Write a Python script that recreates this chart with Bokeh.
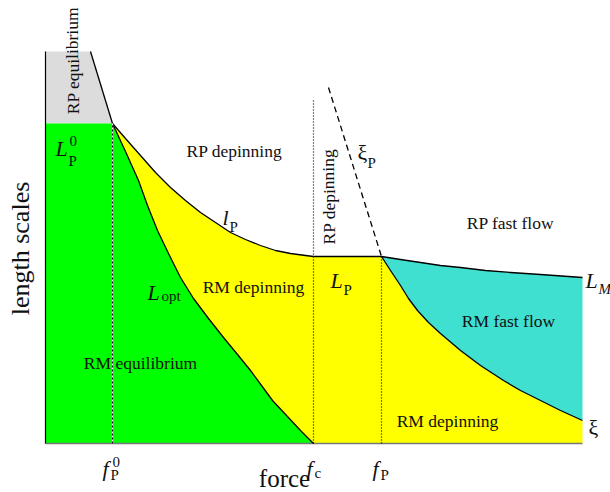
from bokeh.plotting import figure
from bokeh.models import Range1d, ColumnDataSource
from bokeh.core.properties import value
from bokeh.embed import file_html
from bokeh.resources import INLINE

# ---- data (force, length in schematic units; origin at the axes corner) ----
f_P0 = 67
f_c = 268
f_P = 336
f_max = 537
L_top = 392
L_P0 = 320
L_P = 187
gray_top_force = 45
fc_line_top = 343

lP_force = [67, 80, 95, 110, 125, 140, 155, 170, 185, 200, 215, 230, 245, 260, 268]
lP_len = [320, 305, 288, 271, 256, 243, 231, 221, 211, 204, 198, 193, 190, 188, 187]
Lopt_force = [67, 80, 93, 102, 112, 123, 135, 148, 163, 178, 192, 205, 216, 227,
              241, 255, 268]
Lopt_len = [320, 292, 263, 238, 213, 190, 166, 145, 125, 106, 89, 73, 58, 43, 28, 13, 0]
LM_force = [336, 355, 375, 395, 415, 440, 465, 495, 537]
LM_len = [187, 184, 181, 178, 176, 173, 171, 169, 166]
xi_force = [336, 345, 355, 363, 372, 383, 395, 415, 435, 458, 475, 495, 515, 537]
xi_len = [187, 173, 158, 145, 133, 121, 110, 93, 78, 63, 53, 43, 33, 23]
xiP_force = [283, 336]
xiP_len = [356, 187]

region_names = ["RP depinning", "RP fast flow", "RM depinning", "RM fast flow",
                "RM equilibrium", "RM depinning"]
region_x = [189, 465, 208, 463, 95, 402]
region_y = [293, 221, 157, 123, 81, 23]

FONT = value("Liberation Serif")
INK = "#111111"

p = figure(width=610, height=492, output_backend="svg", toolbar_location=None,
           x_range=Range1d(-45, 565), y_range=Range1d(-49, 443), min_border=0)
p.xaxis.visible = False
p.yaxis.visible = False
p.grid.visible = False
p.outline_line_color = None
p.background_fill_color = "white"

# regions
p.patch([0, gray_top_force, f_P0, 0], [L_top, L_top, L_P0, L_P0],
        fill_color="#dcdcdc", line_color=None)
p.patch([0] + Lopt_force + [0], [L_P0] + Lopt_len + [0],
        fill_color="#00ff00", line_color=None)
yx = lP_force + [f_P] + xi_force[1:] + [f_max] + Lopt_force[::-1]
yy = lP_len + [L_P] + xi_len[1:] + [0] + Lopt_len[::-1]
p.patch(yx, yy, fill_color="#ffff00", line_color=None)
cx = LM_force + xi_force[::-1][:-1]
cy = LM_len + xi_len[::-1][:-1]
p.patch(cx, cy, fill_color="#40e0d0", line_color=None)

# boundaries
lw = 1.3
p.line([0, f_max], [0, 0], line_color="#777777", line_width=1.5)
p.line([0, 0], [L_top, 0], line_color="black", line_width=1.2)
p.line([gray_top_force, f_P0], [L_top, L_P0], line_color="black", line_width=lw)
p.line(lP_force, lP_len, line_color="black", line_width=lw, line_join="round")
p.line([f_c, f_P], [L_P, L_P], line_color="black", line_width=lw)
p.line(Lopt_force, Lopt_len, line_color="black", line_width=lw, line_join="round")
p.line(LM_force, LM_len, line_color="black", line_width=lw, line_join="round")
p.line(xi_force, xi_len, line_color="black", line_width=lw, line_join="round")
p.line(xiP_force, xiP_len, line_color="black", line_width=1.3, line_dash="6 4")

# dotted guides
p.line([f_P0, f_P0], [0, L_P0], line_color="white", line_width=1.2)
p.line([f_P0, f_P0], [0, L_P0], line_color="black", line_width=1.2, line_dash="2 2")
p.line([f_c, f_c], [0, fc_line_top], line_color="black", line_width=1.2, line_dash="1 2")
p.line([f_P, f_P], [0, L_P], line_color="black", line_width=1.2, line_dash="1 2")

# region labels
src = ColumnDataSource(dict(x=region_x, y=region_y, t=region_names))
p.text(x="x", y="y", text="t", source=src, text_font=FONT, text_font_size="17.5px",
       text_align="center", text_baseline="middle", text_color=INK)
p.text(x=[27, 283], y=[383, 247], text=["RP equilibrium", "RP depinning"],
       angle=1.5708, text_font=FONT, text_font_size="17.5px",
       text_align="center", text_baseline="middle", text_color=INK)

# axis titles
p.text(x=[239], y=[-48], text=["force"], text_font=FONT, text_font_size="25px",
       text_align="center", text_baseline="bottom", text_color=INK)
p.text(x=[-25], y=[195], text=["length scales"], angle=1.5708, text_font=FONT,
       text_font_size="26px", text_align="center", text_baseline="middle",
       text_color=INK)

# math labels: main symbols
main_t = ["L", "l", "L", "L", "ξ", "L", "ξ", "f", "f", "f"]
main_x = [10, 177, 102, 285, 312, 540, 543, f_P0 - 10, f_c - 7, f_P - 9]
main_y = [295, 226, 151, 163, 291, 163, 16, -25, -25, -25]
main_style = ["italic", "italic", "italic", "italic", "normal", "italic", "normal",
              "italic", "italic", "italic"]
p.text(x=main_x, y=main_y, text=main_t, text_font=FONT, text_font_size="22px",
       text_font_style=main_style, text_align="left", text_baseline="alphabetic",
       text_color=INK)

sub_t = ["P", "P", "opt", "P", "P", "M", "P", "c", "P"]
sub_x = [23, 184, 116, 298, 322, 553, f_P0 - 2, f_c + 1, f_P - 1]
sub_y = [283, 217, 148, 154, 281, 155, -31, -29, -31]
sub_style = ["normal"] * 5 + ["italic"] + ["normal"] * 3
p.text(x=sub_x, y=sub_y, text=sub_t, text_font=FONT, text_font_size="15px",
       text_font_style=sub_style, text_align="left", text_baseline="alphabetic",
       text_color=INK)

sup_t = ["0", "0"]
sup_x = [24, f_P0]
sup_y = [303, -18]
p.text(x=sup_x, y=sup_y, text=sup_t, text_font=FONT, text_font_size="15px",
       text_align="left", text_baseline="alphabetic", text_color=INK)

open("out.html", "w").write(file_html(p, INLINE))
